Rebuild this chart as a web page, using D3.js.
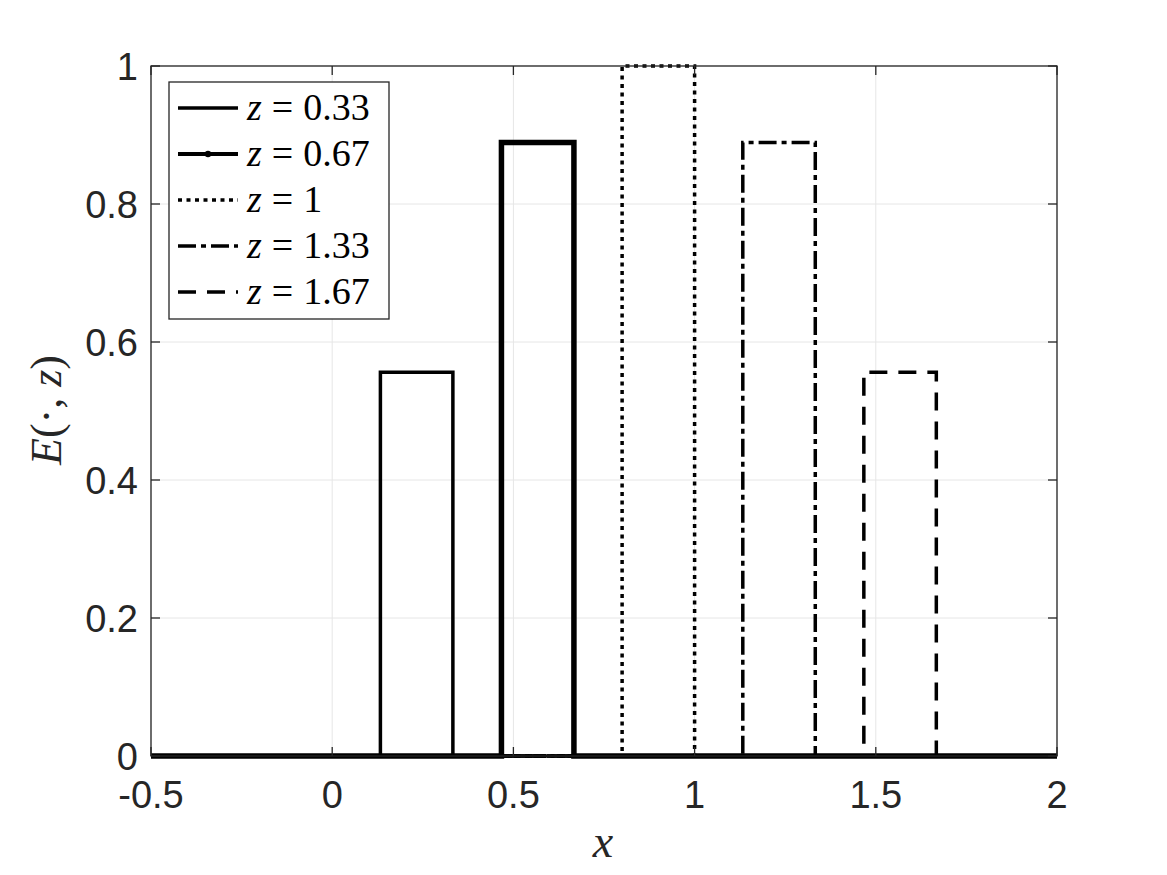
<!DOCTYPE html>
<html><head><meta charset="utf-8">
<script src="https://cdn.jsdelivr.net/npm/d3@7"></script>
<style>body{margin:0;background:#fff}</style>
</head><body>
<svg id="c" width="1167" height="875"></svg>
<script>
// Data: each E(.,z) is a box function on [-0.5, 2]
const zLabels = ["0.33", "0.67", "1", "1.33", "1.67"];
const boxLeft  = [0.133, 0.467, 0.800, 1.133, 1.467];
const boxRight = [0.333, 0.667, 1.000, 1.333, 1.667];
const boxHeight = [0.556, 0.889, 1.000, 0.889, 0.556];
const xDomain = [-0.5, 2];
const xTicks = [-0.5, 0, 0.5, 1, 1.5, 2];
const xTickLabels = ["-0.5", "0", "0.5", "1", "1.5", "2"];
const yTicks = [0, 0.2, 0.4, 0.6, 0.8, 1];
const yTickLabels = ["0", "0.2", "0.4", "0.6", "0.8", "1"];

const styles = [
  {w: 3.5, dash: null, marker: false},
  {w: 5.5, dash: null, marker: true},
  {w: 3.5, dash: "4,4.5", marker: false},
  {w: 3.5, dash: "18,5,5,5", marker: false},
  {w: 3.5, dash: "18,11", marker: false}
];

const svg = d3.select("#c");
const L = 151, R = 1057, T = 66, B = 756;
const x = d3.scaleLinear().domain(xDomain).range([L, R]);
const y = d3.scaleLinear().domain([0, 1]).range([B, T]);

// grid
const g = svg.append("g");
g.selectAll(".gx").data(xTicks).enter().append("line")
  .attr("x1", d => x(d)).attr("x2", d => x(d)).attr("y1", T).attr("y2", B)
  .attr("stroke", "#e6e6e6").attr("stroke-width", 1);
g.selectAll(".gy").data(yTicks).enter().append("line")
  .attr("y1", d => y(d)).attr("y2", d => y(d)).attr("x1", L).attr("x2", R)
  .attr("stroke", "#e6e6e6").attr("stroke-width", 1);

// series
const line = d3.line().x(d => x(d[0])).y(d => y(d[1]));
zLabels.forEach((z, i) => {
  const pts = [[xDomain[0], 0], [boxLeft[i], 0], [boxLeft[i], boxHeight[i]],
               [boxRight[i], boxHeight[i]], [boxRight[i], 0], [xDomain[1], 0]];
  const p = svg.append("path").attr("d", line(pts)).attr("fill", "none")
    .attr("stroke", "#000").attr("stroke-width", styles[i].w)
    .attr("stroke-linejoin", "miter");
  if (styles[i].dash) p.attr("stroke-dasharray", styles[i].dash);
});

// axes box
svg.append("rect").attr("x", L).attr("y", T).attr("width", R - L).attr("height", B - T)
  .attr("fill", "none").attr("stroke", "#262626").attr("stroke-width", 1.3);

// ticks (inward, both sides)
const tl = 9;
xTicks.forEach(d => {
  svg.append("line").attr("x1", x(d)).attr("x2", x(d)).attr("y1", B).attr("y2", B - tl).attr("stroke", "#262626").attr("stroke-width", 1.3);
  svg.append("line").attr("x1", x(d)).attr("x2", x(d)).attr("y1", T).attr("y2", T + tl).attr("stroke", "#262626").attr("stroke-width", 1.3);
});
yTicks.forEach(d => {
  svg.append("line").attr("y1", y(d)).attr("y2", y(d)).attr("x1", L).attr("x2", L + tl).attr("stroke", "#262626").attr("stroke-width", 1.3);
  svg.append("line").attr("y1", y(d)).attr("y2", y(d)).attr("x1", R).attr("x2", R - tl).attr("stroke", "#262626").attr("stroke-width", 1.3);
});

// tick labels
const tf = "'Liberation Sans', Arial, Helvetica, sans-serif";
svg.selectAll(".xt").data(xTicks).enter().append("text")
  .attr("x", d => x(d)).attr("y", 808).attr("text-anchor", "middle")
  .attr("font-family", tf).attr("font-size", 38).attr("fill", "#262626")
  .text((d, i) => xTickLabels[i]);
svg.selectAll(".yt").data(yTicks).enter().append("text")
  .attr("x", 138).attr("y", d => y(d) + 14).attr("text-anchor", "end")
  .attr("font-family", tf).attr("font-size", 38).attr("fill", "#262626")
  .text((d, i) => yTickLabels[i]);

// axis labels
const sf = "'Liberation Serif', 'Times New Roman', serif";
svg.append("text").attr("x", 603).attr("y", 857).attr("text-anchor", "middle")
  .attr("font-family", sf).attr("font-style", "italic").attr("font-size", 46).attr("fill", "#262626").text("x");
const yl = svg.append("text").attr("transform", "translate(61,410) rotate(-90)")
  .attr("text-anchor", "middle").attr("font-family", sf).attr("font-size", 44).attr("fill", "#262626");
yl.append("tspan").attr("font-style", "italic").text("E");
yl.append("tspan").text("(\u00B7, ");
yl.append("tspan").attr("font-style", "italic").text("z");
yl.append("tspan").text(")");

// legend
const lg = svg.append("g");
lg.append("rect").attr("x", 169).attr("y", 82).attr("width", 220).attr("height", 237)
  .attr("fill", "#fff").attr("stroke", "#262626").attr("stroke-width", 1.3);
zLabels.forEach((z, i) => {
  const cy = 108 + i * 46;
  const l = lg.append("line").attr("x1", 178).attr("x2", 238).attr("y1", cy).attr("y2", cy)
    .attr("stroke", "#000").attr("stroke-width", i === 1 ? 4 : 3.5);
  if (styles[i].dash) l.attr("stroke-dasharray", styles[i].dash);
  if (styles[i].marker) lg.append("circle").attr("cx", 208).attr("cy", cy).attr("r", 3.2).attr("fill", "#000");
  const t = lg.append("text").attr("x", 247).attr("y", cy + 12)
    .attr("font-family", sf).attr("font-size", 38).attr("fill", "#000");
  t.append("tspan").attr("font-style", "italic").text("z");
  t.append("tspan").attr("dx", 10).text("=");
  t.append("tspan").attr("dx", 10).text(z);
});
</script>
</body></html>
